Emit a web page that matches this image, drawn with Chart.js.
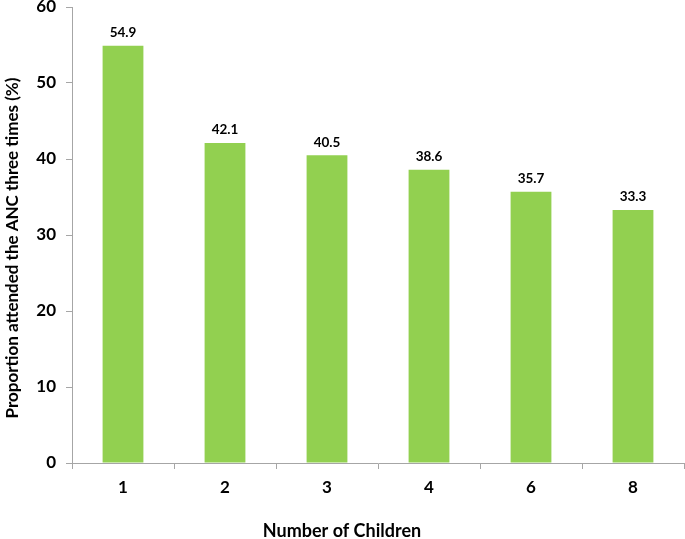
<!DOCTYPE html>
<html>
<head>
<meta charset="utf-8">
<script src="https://cdn.jsdelivr.net/npm/chart.js@4"></script>
<style>
  html, body { margin: 0; padding: 0; background: #fff; }
  #wrap { width: 685px; height: 539px; }
</style>
</head>
<body>
<div id="wrap"><canvas id="chart"></canvas></div>
<script>
// Data
const categories = ['1', '2', '3', '4', '6', '8'];
const proportions = [54.9, 42.1, 40.5, 38.6, 35.7, 33.3];
const yTicks = [0, 10, 20, 30, 40, 50, 60];
const yTitle = 'Proportion attended the ANC three times (%)';

const FONT = 'Lato, "Open Sans", sans-serif';
const axisGray = '#a6a6a6';

// draws the value above each bar + the rotated y title
const barValues = {
    id: 'barValues',
    afterDatasetsDraw(chart) {
        const c = chart.ctx;
        const meta = chart.getDatasetMeta(0);
        c.save();
        c.font = 'bold 13.5px ' + FONT;
        c.fillStyle = '#000';
        c.textAlign = 'center';
        c.textBaseline = 'middle';
        meta.data.forEach((bar, i) => {
            c.fillText(proportions[i].toFixed(1), bar.x, bar.y - 13);
        });
        // y axis title, sits a bit lower than the plot centre like the original
        c.translate(13, 248);
        c.rotate(-Math.PI / 2);
        c.font = 'bold 17px ' + FONT;
        c.fillText(yTitle, 0, 0);
        c.restore();
    }
};

const ctx = document.getElementById('chart').getContext('2d');
new Chart(ctx, {
    type: 'bar',
    data: {
        labels: categories,
        datasets: [{
            data: proportions,
            backgroundColor: '#92d050',
            borderWidth: 0,
            barPercentage: 0.4,
            categoryPercentage: 1.0
        }]
    },
    options: {
        responsive: true,
        maintainAspectRatio: false,
        animation: false,
        layout: { padding: { top: 7, right: 1, left: 0, bottom: 0 } },
        plugins: {
            legend: { display: false },
            tooltip: { enabled: false },
            title: {
                display: true,
                position: 'bottom',
                text: 'Number of Children',
                color: '#000',
                padding: { top: 6, bottom: -3 },
                font: { family: FONT, size: 18, weight: 'bold' }
            }
        },
        scales: {
            y: {
                min: 0,
                max: 60,
                afterFit: s => { s.width = 72; s.paddingTop = 0; },
                afterBuildTicks: s => { s.ticks = yTicks.map(v => ({ value: v })); },
                border: { color: axisGray, width: 1 },
                grid: { drawOnChartArea: false, color: axisGray, tickLength: 6 },
                ticks: {
                    color: '#000',
                    padding: 10,
                    font: { family: FONT, size: 17, weight: 'bold' }
                }
            },
            x: {
                afterFit: s => { s.height = 539 - 463 - 24.6; },
                border: { color: axisGray, width: 1 },
                grid: { offset: true, drawOnChartArea: false, color: axisGray, tickLength: 6 },
                ticks: {
                    color: '#000',
                    padding: 8,
                    font: { family: FONT, size: 17, weight: 'bold' }
                }
            }
        }
    },
    plugins: [barValues]
});
</script>
</body>
</html>
